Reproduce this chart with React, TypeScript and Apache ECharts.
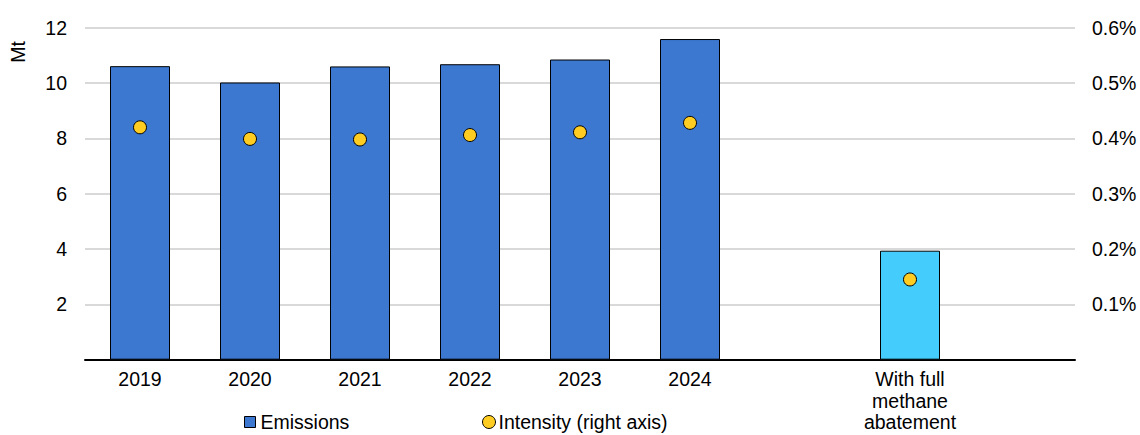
import React, { useEffect, useRef } from "react";
import * as echarts from "echarts";

const categories = ["2019", "2020", "2021", "2022", "2023", "2024", "", "With full\nmethane\nabatement", ""];
const emissions = [10.61, 10.02, 10.6, 10.68, 10.85, 11.59, null, null, null];
const abatement = [null, null, null, null, null, null, null, 3.94, null];
const intensity = [0.42, 0.399, 0.398, 0.406, 0.411, 0.428, null, 0.145, null];

export default function App() {
  const ref = useRef<HTMLDivElement>(null);
  useEffect(() => {
    document.body.style.margin = "0";
    const chart = echarts.init(ref.current!, null, { renderer: "svg" });
    const font = "'Liberation Sans', Arial, sans-serif";
    const fs = 19.5;
    chart.setOption({
      animation: false,
      textStyle: { fontFamily: font },
      grid: { left: 85, right: 65, top: 27.7, bottom: 75.3, containLabel: false },
      graphic: [
        {
          type: "text",
          x: 17.5,
          y: 52,
          rotation: Math.PI / 2,
          style: { text: "Mt", fill: "#000", font: `${fs}px ${font}`, align: "center", verticalAlign: "middle" },
        },
      ],
      legend: [
        {
          left: 244,
          top: 412,
          padding: 0,
          itemWidth: 11,
          itemHeight: 11,
          itemGap: 0,
          textStyle: { fontSize: fs, color: "#000", fontFamily: font, padding: [0, 0, 0, 0] },
          data: [{ name: "Emissions", icon: "rect", itemStyle: { color: "#3c78d0", borderColor: "#000", borderWidth: 1 } }],
        },
        {
          left: 482,
          top: 412,
          padding: 0,
          itemWidth: 13,
          itemHeight: 13,
          itemGap: 0,
          textStyle: { fontSize: fs, color: "#000", fontFamily: font, padding: [0, 0, 0, -2] },
          data: [{ name: "Intensity (right axis)", icon: "circle", itemStyle: { color: "#ffcc22", borderColor: "#000", borderWidth: 1 } }],
        },
      ],
      xAxis: {
        type: "category",
        data: categories,
        axisLine: { lineStyle: { color: "#000", width: 2 } },
        axisTick: { show: false },
        axisLabel: { color: "#000", fontSize: fs, lineHeight: 21.5, margin: 9, interval: 0, fontFamily: font },
      },
      yAxis: [
        {
          type: "value",
          min: 0,
          max: 12,
          interval: 2,
          axisLine: { show: false },
          axisTick: { show: false },
          splitLine: { lineStyle: { color: "#d9d9d9", width: 2 } },
          axisLabel: {
            color: "#000",
            fontSize: fs,
            margin: 18,
            fontFamily: font,
            formatter: (v: number) => (v === 0 ? "" : String(v)),
          },
        },
        {
          type: "value",
          min: 0,
          max: 0.6,
          interval: 0.1,
          position: "right",
          axisLine: { show: false },
          axisTick: { show: false },
          splitLine: { show: false },
          axisLabel: {
            color: "#000",
            fontSize: fs,
            margin: 17,
            fontFamily: font,
            formatter: (v: number) => (v < 0.0001 ? "" : v.toFixed(1) + "%"),
          },
        },
      ],
      series: [
        {
          name: "Emissions",
          type: "bar",
          data: emissions,
          barWidth: 60,
          barGap: "-100%",
          itemStyle: { color: "#3c78d0", borderColor: "#000", borderWidth: 1 },
        },
        {
          name: "Abatement",
          type: "bar",
          data: abatement,
          barWidth: 60,
          barGap: "-100%",
          itemStyle: { color: "#44ccfc", borderColor: "#000", borderWidth: 1 },
        },
        {
          name: "Intensity (right axis)",
          type: "scatter",
          yAxisIndex: 1,
          data: intensity,
          symbol: "circle",
          symbolSize: 13,
          itemStyle: { color: "#ffcc22", borderColor: "#000", borderWidth: 1, opacity: 1 },
          z: 5,
        },
      ],
    });
    return () => chart.dispose();
  }, []);
  return <div ref={ref} style={{ width: 1140, height: 435 }} />;
}
